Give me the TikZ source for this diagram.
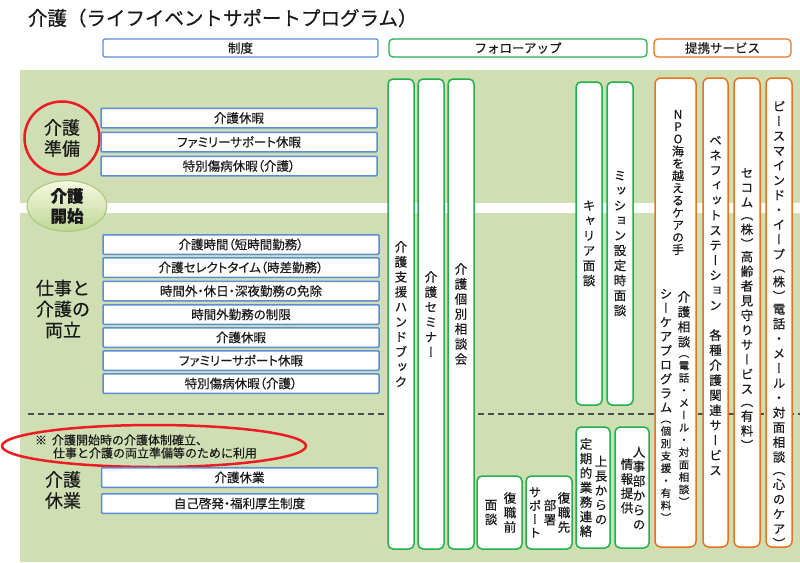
\documentclass[tikz,border=0pt]{standalone}
\usepackage{fontspec}
\setmainfont{Noto Sans CJK JP}[FakeBold=0.4]
\newfontfamily\vjp{Noto Sans CJK JP}[RawFeature=+vert, FakeBold=0.4]
\newfontfamily\pjp{Noto Sans CJK JP}[RawFeature=+palt, FakeBold=0.4]
\usetikzlibrary{shapes.geometric}
\definecolor{bggreen}{HTML}{CFDFB3}
\definecolor{bxblue}{HTML}{5B8ED6}
\definecolor{clgreen}{HTML}{22B04C}
\definecolor{clorange}{HTML}{E8731C}
\definecolor{mkred}{HTML}{EC1C24}
\definecolor{txt}{HTML}{1A1A1A}
\definecolor{startT}{HTML}{F6F9E2}
\definecolor{startB}{HTML}{BFD693}
\definecolor{startbd}{HTML}{A9C47C}
\makeatletter
\newdimen\vs@pend
\def\vs@op{（}
\def\vs@cl{）}
\newcommand\vs@box{\hbox to\z@{\hss\vs@c\hss}}
\newcommand\vs@one{%
  \ifx\vs@c\vs@op
    \vskip-\dimexpr\vs@pend+0.15\baselineskip\relax \vs@pend=\z@ \vs@box
  \else\ifx\vs@c\vs@cl
    \vskip-\vs@pend \vs@pend=\z@ \vs@box \vs@pend=0.15\baselineskip
  \else
    \vskip-\vs@pend \vs@pend=\z@ \vs@box
  \fi\fi}
\newcommand\vitems[1]{\@tfor\vs@c:=#1\do{\vs@one}}
\newcommand\vcol[3]{\vbox{\vjp\fontsize{#1}{#2}\selectfont\lineskiplimit=-\maxdimen\vs@pend=\z@ #3}}
\newcommand\vstack[3]{\vcol{#1}{#2}{\vitems{#3}}}
\newcommand\vsmall[3]{\fontsize{#1}{#2}\selectfont\vitems{#3}}
\makeatother
\begin{document}
\begin{tikzpicture}[x=1pt,y=-1pt,
  every node/.style={inner sep=0pt, outer sep=0pt},
  hdr/.style={draw, line width=1.2pt, fill=white, minimum height=18pt, font=\fontsize{12.5}{14}\selectfont, text=txt},
  blbox/.style={draw=bxblue, line width=1.5pt, fill=white, minimum width=276pt, minimum height=19.5pt, rounded corners=1pt, font=\pjp\fontsize{12.5}{14}\selectfont, text=txt},
  grcol/.style={draw=clgreen, line width=1.5pt, fill=white, rounded corners=5pt},
  orcol/.style={draw=clorange, line width=1.5pt, fill=white, rounded corners=6pt},
  vt/.style={text=txt},
  lbl/.style={align=center, font=\fontsize{18}{21}\selectfont, text=txt}
]
\useasboundingbox (0,0) rectangle (800,562);
\fill[white] (0,0) rectangle (800,562);
% title and headers
\node[anchor=west, font=\fontsize{19.5}{22}\selectfont, text=txt] (title) at (28,18) {介護（ライフイベントサポートプログラム）};
\node[hdr, draw=bxblue, rounded corners=2pt, minimum width=275pt] (h1) at (240.5,48) {制度};
\node[hdr, draw=clgreen, rounded corners=4pt, minimum width=258pt] (h2) at (518,48) {フォローアップ};
\node[hdr, draw=clorange, rounded corners=4pt, minimum width=137pt] (h3) at (722.5,48) {提携サービス};
% background
\fill[bggreen] (20,70) rectangle (800,562);
\fill[white] (20,203) rectangle (800,213);
\draw[black!70, line width=1.2pt, dash pattern=on 6pt off 4pt] (28,414) -- (800,414);
% left labels
\node[ellipse, draw=mkred, line width=2.5pt, minimum width=75pt, minimum height=73pt, lbl] (prep) at (62,138) {介護\\準備};
\node[ellipse, draw=startbd, line width=1pt, top color=startT, bottom color=startB, minimum width=80pt, minimum height=46pt, align=center, font=\bfseries\fontsize{16.5}{20}\selectfont, text=txt] (start) at (67,206) {介護\\開始};
\node[lbl] (both) at (63,309) {仕事と\\介護の\\両立};
\node[lbl] (leave) at (63,490) {介護\\休業};
\node[ellipse, draw=mkred, line width=2.5pt, minimum width=304pt, minimum height=42pt] (noteov) at (154,446) {};
\node[anchor=west, align=left, font=\fontsize{12}{13}\selectfont, text=txt] (note) at (35,446.5) {※\hspace*{5pt}介護開始時の介護体制確立、\\\hspace*{18pt}仕事と介護の両立準備等のために利用};
% blue boxes
\node[blbox] (b1) at (239,118) {介護休暇};
\node[blbox] (b2) at (239,142) {ファミリーサポート休暇};
\node[blbox] (b3) at (239,166) {特別傷病休暇（介護）};
\node[blbox] (b4) at (241,244.5) {介護時間（短時間勤務）};
\node[blbox] (b5) at (241,267.5) {介護セレクトタイム（時差勤務）};
\node[blbox] (b6) at (241,291) {時間外・休日・深夜勤務の免除};
\node[blbox] (b7) at (241,314.5) {時間外勤務の制限};
\node[blbox] (b8) at (241,337.5) {介護休暇};
\node[blbox] (b9) at (241,360.5) {ファミリーサポート休暇};
\node[blbox] (b10) at (241,383.5) {特別傷病休暇（介護）};
\node[blbox] (b11) at (239.5,477.5) {介護休業};
\node[blbox] (b12) at (239.5,503.5) {自己啓発・福利厚生制度};
% green columns
\node[grcol, minimum width=26pt, minimum height=470pt] (c1) at (401,314) {};
\node[grcol, minimum width=26pt, minimum height=470pt] (c2) at (431,314) {};
\node[grcol, minimum width=26pt, minimum height=470pt] (c3) at (461,314) {};
\node[grcol, minimum width=26pt, minimum height=323pt] (c4) at (589,243.5) {};
\node[grcol, minimum width=26pt, minimum height=323pt] (c5) at (620,243.5) {};
\node[grcol, minimum width=45pt, minimum height=73pt] (c6) at (499.5,512.5) {};
\node[grcol, minimum width=46pt, minimum height=73pt] (c7) at (549,512.5) {};
\node[grcol, minimum width=34pt, minimum height=121pt] (c8) at (593,487.5) {};
\node[grcol, minimum width=34pt, minimum height=121pt] (c9) at (632,487.5) {};
\node[vt] (t1) at (c1.center) {\vstack{12.5}{15}{介護支援ハンドブック}};
\node[vt] (t2) at (c2.center) {\vstack{12.5}{15}{介護セミナー}};
\node[vt] (t3) at (c3.center) {\vstack{12.5}{15}{介護個別相談会}};
\node[vt] (t4) at (c4.center) {\vstack{12.5}{15}{キャリア面談}};
\node[vt] (t5) at (c5.center) {\vstack{12.5}{15}{ミッション設定時面談}};
\node[vt] (t6a) at (510,512.5) {\vstack{12.5}{14.5}{復職前}};
\node[vt] (t6b) at (491,512.5) {\vstack{12.5}{14.5}{面談}};
\node[vt] (t7a) at (564,512.5) {\vstack{12.5}{14.5}{復職先}};
\node[vt] (t7b) at (550,512.5) {\vstack{12.5}{14.5}{部署}};
\node[vt] (t7c) at (535,512.5) {\vstack{12.5}{13.5}{サポート}};
\node[vt] (t8a) at (601,490) {\vstack{12.5}{14.5}{上長からの}};
\node[vt] (t8b) at (586,487.5) {\vstack{12.5}{14.5}{定期的業務連絡}};
\node[vt] (t9a) at (639,488) {\vstack{12.5}{14.5}{人事部からの}};
\node[vt] (t9b) at (627,486) {\vstack{12.5}{14.5}{情報提供}};
% orange columns
\node[orcol, minimum width=41pt, minimum height=469pt] (o1) at (675.5,312.5) {};
\node[orcol, minimum width=25pt, minimum height=469pt] (o2) at (715.5,312.5) {};
\node[orcol, minimum width=26pt, minimum height=469pt] (o3) at (747,312.5) {};
\node[orcol, minimum width=26pt, minimum height=469pt] (o4) at (779,312.5) {};
\node[vt, anchor=north] (u1a) at (678,110) {\vstack{12}{12.3}{NPO海を越えるケアの手}};
\node[vt, anchor=north] (u1b) at (684,291) {\vcol{12.5}{15}{\vitems{介護相談}\vsmall{10.5}{12.4}{（電話・メール・対面相談）}}};
\node[vt, anchor=north] (u1c) at (666,289) {\vcol{12.5}{14.2}{\vitems{シーケアプログラム}\vsmall{10.5}{12.4}{（個別支援・有料）}}};
\node[vt, anchor=north] (u2) at (715.5,136) {\vstack{12.5}{15}{ベネフィットステーション　各種介護関連サービス}};
\node[vt, anchor=north] (u3) at (747,168) {\vstack{12.5}{14.7}{セコム（株）高齢者見守りサービス（有料）}};
\node[vt, anchor=north] (u4) at (779,101) {\vstack{12.5}{14.8}{ピースマインド・イープ（株）電話・メール・対面相談（心のケア）}};
\end{tikzpicture}
\end{document}
